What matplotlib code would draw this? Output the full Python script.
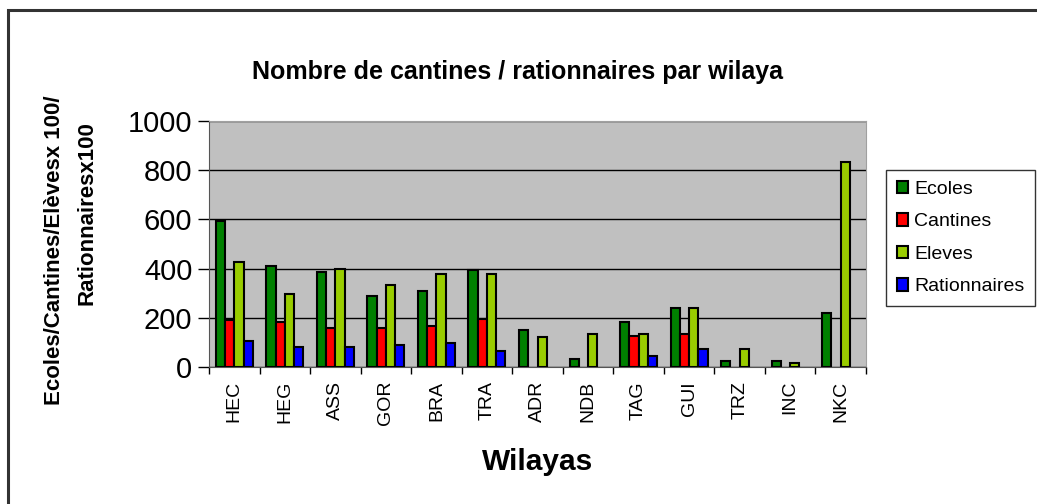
import matplotlib.pyplot as plt
from matplotlib.patches import Rectangle
from matplotlib.transforms import Bbox, TransformedBbox
import numpy as np

plt.rcParams['font.family'] = ['Liberation Sans', 'DejaVu Sans']

wilayas = ["HEC", "HEG", "ASS", "GOR", "BRA", "TRA", "ADR", "NDB", "TAG", "GUI", "TRZ", "INC", "NKC"]
ecoles = [595, 411, 387, 287, 310, 395, 152, 33, 183, 238, 24, 24, 221]
cantines = [190, 182, 158, 158, 166, 197, 0, 0, 128, 136, 0, 0, 0]
eleves = [426, 295, 397, 334, 380, 380, 120, 136, 136, 238, 73, 15, 835]
rationnaires = [106, 81, 81, 88, 97, 65, 0, 0, 46, 73, 0, 0, 0]

series_names = ["Ecoles", "Cantines", "Eleves", "Rationnaires"]
series_colors = ["#008000", "#ff0000", "#99cc00", "#0000ff"]

fig = plt.figure(figsize=(10.37, 5.04), dpi=100)
# outer chart frame (only top and left visible)
fig.add_artist(Rectangle((8/1037, -0.1), 1.2, (504-10)/504 + 0.1, transform=fig.transFigure,
                         fill=False, edgecolor='#333333', linewidth=2.2))

ax = fig.add_axes([209/1037, 1-367/504, (866-209)/1037, (367-121)/504])
ax.set_facecolor('#c0c0c0')

x = np.arange(len(wilayas))
w = 0.183
for k, (vals, name, col) in enumerate(zip([ecoles, cantines, eleves, rationnaires], series_names, series_colors)):
    vals = np.array(vals, dtype=float)
    keep = vals > 0  # empty slots have no bar
    ax.bar((x + (k - 1.5) * w)[keep], vals[keep], w, color=col, edgecolor='black',
           linewidth=1.5, label=name, zorder=3)

ax.set_xlim(-0.5, len(wilayas) - 0.5)
ax.set_ylim(0, 1000)
ax.set_yticks([0, 200, 400, 600, 800, 1000])
ax.yaxis.grid(True, color='black', linewidth=1, zorder=1)
ax.tick_params(axis='y', labelsize=21, length=8, width=1, direction='out', pad=4)
ax.set_xticks(x)
ax.set_xticklabels(wilayas, rotation=90, fontsize=14)
ax.tick_params(axis='x', length=0, pad=10)
ax.set_xticks(np.arange(len(wilayas) + 1) - 0.5, minor=True)
ax.tick_params(axis='x', which='minor', length=5, width=1)

for s in ['top', 'right']:
    ax.spines[s].set_color('#a0a0a0')
for s in ['left', 'bottom']:
    ax.spines[s].set_color('#555555')

ax.set_xlabel("Wilayas", fontsize=21.5, fontweight='bold', labelpad=16)

# y-axis title, two lines, first one cut off at the top like the original
clip = TransformedBbox(Bbox([[0, 0], [1, 1 - 80/504]]), fig.transFigure)
t1 = fig.text(55/1037, 1-405/504, "Ecoles/Cantines/Elèvesx 100/", rotation=90,
              ha='center', va='bottom', fontsize=16, fontweight='bold')
t1.set_clip_box(clip)
t1.set_clip_on(True)
fig.text(87/1037, 1-213/504, "Rationnairesx100", rotation=90,
         ha='center', va='center', fontsize=16, fontweight='bold')

fig.text(518/1037, 1-72/504, "Nombre de cantines / rationnaires par wilaya",
         ha='center', va='center', fontsize=18, fontweight='bold')

leg = fig.legend(loc='upper left', bbox_to_anchor=(886/1037, 1-170/504), fontsize=14,
                 frameon=True, fancybox=False, edgecolor='black', handlelength=0.6,
                 handleheight=0.6, handletextpad=0.3, labelspacing=0.8, borderpad=0.55,
                 borderaxespad=0)
leg.get_frame().set_linewidth(1)

fig.savefig("out.png", dpi=100)
